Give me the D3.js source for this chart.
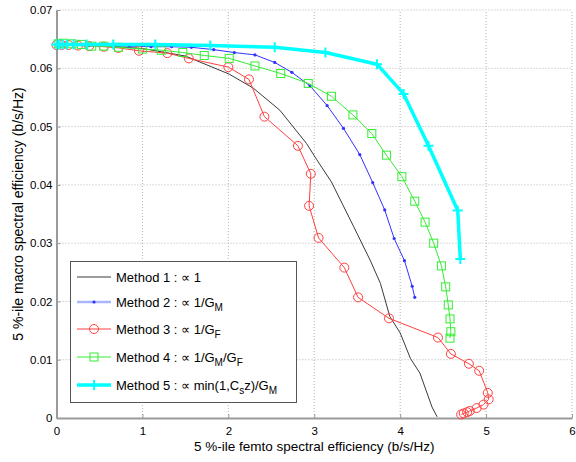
<!DOCTYPE html>
<meta charset='utf-8'>
<style>
body { margin: 0; background: #fff; }
text { font-family: 'Liberation Sans', Arial, sans-serif; fill: #000; }
.grid line { stroke: #b4b4b4; stroke-width: 1px; stroke-dasharray: 1,2; }
</style>
<svg id='chart' width='576' height='462'></svg>
<script src="https://d3js.org/d3.v7.min.js"></script>
<script>
// data
const m1x = [0, 0.51, 1.0, 1.5, 2.01, 2.29, 2.60, 2.91, 3.03, 3.20, 3.46, 3.65, 3.77, 3.88, 4.00, 4.12, 4.23, 4.37, 4.43];
const m1y = [0.0641, 0.0639, 0.0634, 0.0621, 0.0590, 0.0566, 0.0528, 0.0471, 0.0443, 0.0405, 0.0328, 0.0271, 0.0231, 0.0174, 0.0146, 0.0102, 0.0077, 0.0019, 0.0002];

const m2x = [0, 0.08, 0.2, 0.38, 0.6, 0.85, 1.10, 1.34, 1.57, 1.83, 2.07, 2.31, 2.54, 2.74, 2.95, 3.15, 3.34, 3.53, 3.68, 3.82, 3.93, 4.05, 4.14, 4.17];
const m2y = [0.0640, 0.0640, 0.0640, 0.0639, 0.0639, 0.0638, 0.0637, 0.0637, 0.0636, 0.0632, 0.0627, 0.0623, 0.0610, 0.0593, 0.0570, 0.0536, 0.0497, 0.0452, 0.0404, 0.0357, 0.0308, 0.0270, 0.0226, 0.0207];

const m3x = [0, 0.06, 0.14, 0.25, 0.38, 0.55, 0.72, 0.96, 1.29, 1.54, 2.00, 2.24, 2.42, 2.81, 2.96, 2.94, 3.05, 3.35, 3.51, 3.87, 4.44, 4.59, 4.80, 4.92, 5.02, 5.03, 4.97, 4.89, 4.81, 4.78, 4.74, 4.71];
const m3y = [0.0640, 0.0640, 0.0640, 0.0639, 0.0638, 0.0637, 0.0635, 0.0630, 0.0626, 0.0617, 0.0602, 0.0581, 0.0517, 0.0467, 0.0419, 0.0364, 0.0309, 0.0258, 0.0207, 0.0171, 0.0138, 0.0110, 0.0093, 0.0081, 0.0043, 0.0032, 0.0023, 0.0017, 0.0012, 0.0010, 0.0008, 0.0006];

const m4x = [0.02, 0.08, 0.18, 0.29, 0.41, 0.55, 0.72, 1.00, 1.22, 1.47, 1.72, 2.01, 2.31, 2.61, 2.93, 3.20, 3.45, 3.67, 3.84, 4.02, 4.17, 4.29, 4.39, 4.48, 4.53, 4.56, 4.58, 4.59, 4.58];
const m4y = [0.0642, 0.0643, 0.0642, 0.0641, 0.0638, 0.0638, 0.0636, 0.0633, 0.0631, 0.0627, 0.0622, 0.0617, 0.0604, 0.0591, 0.0574, 0.0552, 0.0520, 0.0488, 0.0451, 0.0414, 0.0372, 0.0336, 0.0300, 0.0261, 0.0225, 0.0194, 0.0170, 0.0148, 0.0137];

const m5x = [0, 0.03, 0.07, 0.12, 0.2, 0.35, 0.66, 1.15, 1.79, 2.54, 3.13, 3.73, 4.04, 4.33, 4.67, 4.70];
const m5y = [0.0641, 0.0641, 0.0641, 0.0641, 0.0641, 0.0641, 0.0641, 0.0641, 0.0639, 0.0636, 0.0627, 0.0607, 0.0556, 0.0467, 0.0356, 0.0273];

const xTicks = [0, 1, 2, 3, 4, 5, 6];
const yTicks = [0, 0.01, 0.02, 0.03, 0.04, 0.05, 0.06, 0.07];
const xLabel = '5 %-ile femto spectral efficiency (b/s/Hz)';
const yLabel = '5 %-ile macro spectral efficiency (b/s/Hz)';

// label parts: [text, isSubscript]
const series = [
  {x: m1x, y: m1y, color: '#3a3a3a', width: 1, marker: 'none', legColor: '#3a3a3a', legWidth: 1,
   label: [['Method 1 : ∝ 1', 0]]},
  {x: m2x, y: m2y, color: '#3333ff', width: 1, marker: 'dot', legColor: '#aab4ff', legWidth: 2.5,
   label: [['Method 2 : ∝ 1/G', 0], ['M', 1]]},
  {x: m3x, y: m3y, color: '#ff4040', width: 1, marker: 'circle', legColor: '#ff4040', legWidth: 1,
   label: [['Method 3 : ∝ 1/G', 0], ['F', 1]]},
  {x: m4x, y: m4y, color: '#33ee33', width: 1, marker: 'square', legColor: '#33ee33', legWidth: 1,
   label: [['Method 4 : ∝ 1/G', 0], ['M', 1], ['/G', 0], ['F', 1]]},
  {x: m5x, y: m5y, color: '#00ffff', width: 3.5, marker: 'plus', legColor: '#00ffff', legWidth: 3.5,
   label: [['Method 5 : ∝ min(1,C', 0], ['s', 1], ['z)/G', 0], ['M', 1]]}
];

const svg = d3.select('#chart');
const mLeft = 56.5, mRight = 572, mTop = 10, mBottom = 418;

const x = d3.scaleLinear().domain([0, 6]).range([mLeft, mRight]);
const y = d3.scaleLinear().domain([0, 0.07]).range([mBottom, mTop]);

// grid
const grid = svg.append('g').attr('class', 'grid');
grid.selectAll('line.v')
  .data(xTicks.slice(1))
  .enter().append('line')
  .attr('class', 'v')
  .attr('x1', d => x(d)).attr('x2', d => x(d))
  .attr('y1', mBottom).attr('y2', mTop);
grid.selectAll('line.h')
  .data(yTicks.slice(1))
  .enter().append('line')
  .attr('class', 'h')
  .attr('x1', mLeft).attr('x2', mRight)
  .attr('y1', d => y(d)).attr('y2', d => y(d));

// axes
const xAxis = svg.append('g')
  .attr('transform', 'translate(0,' + mBottom + ')')
  .call(d3.axisBottom(x).tickValues(xTicks).tickFormat(d3.format('d')).tickSizeInner(-4).tickSizeOuter(0).tickPadding(9));
const yAxis = svg.append('g')
  .attr('transform', 'translate(' + mLeft + ',0)')
  .call(d3.axisLeft(y).tickValues(yTicks).tickFormat(d => d === 0 ? '0' : d3.format('.2f')(d)).tickSizeInner(-4).tickSizeOuter(0).tickPadding(4));

[xAxis, yAxis].forEach(function(a) {
  a.select('.domain').attr('stroke', '#9a9a9a').attr('stroke-width', 2);
  a.selectAll('.tick line').attr('stroke', '#9a9a9a');
  a.selectAll('.tick text')
    .style('font-family', "'Liberation Sans', Arial, sans-serif")
    .style('font-size', '11.5px').attr('fill', '#000');
});

// series
const line = d3.line().x(d => x(d[0])).y(d => y(d[1]));
const plot = svg.append('g');

function drawMarker(g, kind, color, px, py) {
  if (kind === 'dot') {
    g.append('circle').attr('cx', px).attr('cy', py).attr('r', 1.6).attr('fill', color);
  } else if (kind === 'circle') {
    g.append('circle').attr('cx', px).attr('cy', py).attr('r', 4.5)
      .attr('fill', 'none').attr('stroke', color).attr('stroke-width', 1);
  } else if (kind === 'square') {
    g.append('rect').attr('x', px - 4).attr('y', py - 4).attr('width', 8).attr('height', 8)
      .attr('fill', 'none').attr('stroke', color).attr('stroke-width', 1);
  } else if (kind === 'plus') {
    g.append('path').attr('d', 'M' + (px - 5) + ',' + py + 'H' + (px + 5) + 'M' + px + ',' + (py - 5) + 'V' + (py + 5))
      .attr('stroke', color).attr('stroke-width', 2).attr('fill', 'none');
  }
}

series.forEach(function(s) {
  const pts = s.x.map((v, i) => [v, s.y[i]]);
  const g = plot.append('g');
  g.append('path')
    .datum(pts)
    .attr('d', line)
    .attr('fill', 'none')
    .attr('stroke', s.color)
    .attr('stroke-width', s.width)
    .attr('stroke-linejoin', 'round');
  pts.forEach(p => drawMarker(g, s.marker, s.color, x(p[0]), y(p[1])));
});

// legend
const leg = svg.append('g');
leg.append('rect')
  .attr('x', 70.5).attr('y', 261.5).attr('width', 226).attr('height', 141)
  .attr('fill', '#fff').attr('stroke', '#555').attr('stroke-width', 1);

const rowY = [277, 302, 329, 357, 385];
series.forEach(function(s, i) {
  const ry = rowY[i];
  leg.append('line')
    .attr('x1', 77).attr('x2', 111).attr('y1', ry).attr('y2', ry)
    .attr('stroke', s.legColor).attr('stroke-width', s.legWidth);
  drawMarker(leg, s.marker, s.color, 94, ry);
  const t = leg.append('text')
    .attr('x', 116).attr('y', ry + 5)
    .style('font-size', '13px');
  let wasSub = false;
  s.label.forEach(function(part) {
    const isSub = part[1] === 1;
    t.append('tspan')
      .attr('dy', isSub ? (wasSub ? 0 : 4) : (wasSub ? -4 : 0))
      .style('font-size', isSub ? '10px' : '13px')
      .text(part[0]);
    wasSub = isSub;
  });
});

// axis labels
svg.append('text')
  .attr('x', (mLeft + mRight) / 2).attr('y', 451)
  .attr('text-anchor', 'middle')
  .style('font-size', '13.5px')
  .text(xLabel);
svg.append('text')
  .attr('transform', 'translate(23,' + (mTop + mBottom) / 2 + ') rotate(-90)')
  .attr('text-anchor', 'middle')
  .style('font-size', '14px')
  .text(yLabel);
</script>
